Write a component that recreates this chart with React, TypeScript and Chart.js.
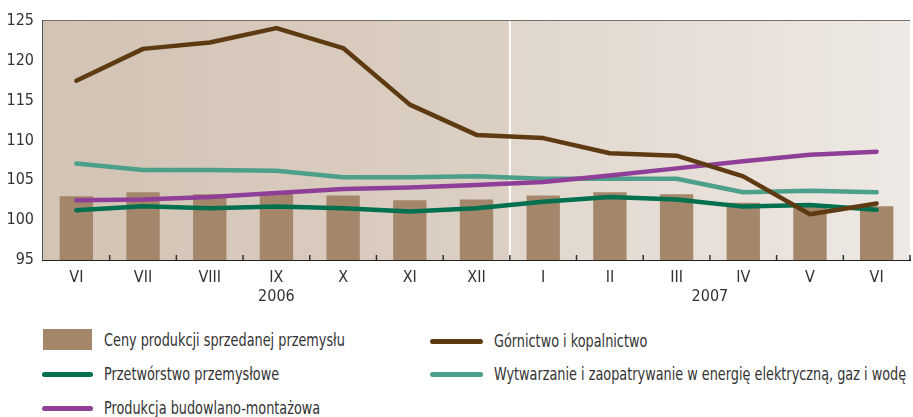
import React, { useEffect, useRef } from "react";
import { Chart, registerables } from "chart.js";

Chart.register(...registerables);

const categories = ["VI", "VII", "VIII", "IX", "X", "XI", "XII", "I", "II", "III", "IV", "V", "VI"];
const yearLabels = ["2006", "2007"];
const yearStart = [0, 7];
const yearEnd = [6, 12];
const yTicks = [95, 100, 105, 110, 115, 120, 125];

const cenyProdukcji = [103.0, 103.5, 103.25, 103.3, 103.1, 102.5, 102.6, 103.1, 103.5, 103.25, 102.2, 102.0, 101.75];
const gornictwo = [117.5, 121.5, 122.3, 124.1, 121.6, 114.5, 110.7, 110.3, 108.4, 108.1, 105.5, 100.75, 102.1];
const przetworstwo = [101.25, 101.75, 101.5, 101.7, 101.5, 101.1, 101.5, 102.3, 102.9, 102.6, 101.7, 101.9, 101.3];
const wytwarzanie = [107.1, 106.3, 106.3, 106.2, 105.4, 105.4, 105.5, 105.2, 105.2, 105.2, 103.5, 103.7, 103.5];
const budowlano = [102.5, 102.6, 102.9, 103.4, 103.9, 104.1, 104.4, 104.8, 105.6, 106.5, 107.4, 108.2, 108.6];

const FONT = "'Liberation Sans Narrow', 'DejaVu Sans Condensed', 'Arial Narrow', sans-serif";
const TEXT = "#333333";

const C_BAR = "#a4866a";
const C_BROWN = "#5e3a12";
const C_GREEN = "#00704e";
const C_TEAL = "#4c9f88";
const C_PURPLE = "#8f3f98";

const bgPlugin = {
  id: "bgPlugin",
  beforeDatasetsDraw(chart: any) {
    const { ctx, chartArea } = chart;
    const x = chart.scales.x;
    const { left, right, top, bottom } = chartArea;
    const boundary = (x.getPixelForValue(6) + x.getPixelForValue(7)) / 2;
    ctx.save();
    const g1 = ctx.createLinearGradient(left, 0, boundary, 0);
    g1.addColorStop(0, "rgb(210,195,180)");
    g1.addColorStop(1, "rgb(220,208,196)");
    ctx.fillStyle = g1;
    ctx.fillRect(left, top, boundary - left, bottom - top);
    const g2 = ctx.createLinearGradient(boundary, 0, right, 0);
    g2.addColorStop(0, "rgb(224,214,204)");
    g2.addColorStop(1, "rgb(238,233,228)");
    ctx.fillStyle = g2;
    ctx.fillRect(boundary, top, right - boundary, bottom - top);
    ctx.restore();
  },
};

const overlayPlugin = {
  id: "overlayPlugin",
  beforeDatasetsDraw(chart: any) {
    const { ctx, chartArea } = chart;
    const x = chart.scales.x;
    const boundary = (x.getPixelForValue(6) + x.getPixelForValue(7)) / 2;
    ctx.save();
    ctx.strokeStyle = "#ffffff";
    ctx.lineWidth = 2;
    ctx.beginPath();
    ctx.moveTo(boundary, chartArea.top);
    ctx.lineTo(boundary, chartArea.bottom);
    ctx.stroke();
    ctx.restore();
  },
  afterDraw(chart: any) {
    const { ctx, chartArea } = chart;
    const x = chart.scales.x;
    const n = categories.length;
    const step = x.getPixelForValue(1) - x.getPixelForValue(0);
    ctx.save();
    ctx.strokeStyle = "#333333";
    ctx.lineWidth = 1.5;
    for (let i = 0; i < n; i++) {
      const px = x.getPixelForValue(i) + step / 2;
      ctx.beginPath();
      ctx.moveTo(px, chartArea.bottom);
      ctx.lineTo(px, chartArea.bottom - 5);
      ctx.stroke();
    }
    ctx.fillStyle = TEXT;
    ctx.font = `16px ${FONT}`;
    ctx.textAlign = "center";
    ctx.textBaseline = "middle";
    for (let k = 0; k < yearLabels.length; k++) {
      const cx = (x.getPixelForValue(yearStart[k]) + x.getPixelForValue(yearEnd[k])) / 2;
      ctx.fillText(yearLabels[k], cx, chartArea.bottom + 37);
    }
    ctx.restore();
  },
};

function App() {
  const ref = useRef<HTMLCanvasElement | null>(null);

  useEffect(() => {
    document.body.style.margin = "0";
    if (!ref.current) return;
    const lineDs = (label: string, data: number[], color: string, order: number) => ({
      type: "line",
      label,
      data,
      borderColor: color,
      backgroundColor: color,
      borderWidth: 4.5,
      pointRadius: 0,
      tension: 0,
      borderCapStyle: "round",
      borderJoinStyle: "round",
      order,
    });
    const chart = new Chart(ref.current, {
      type: "bar",
      data: {
        labels: categories,
        datasets: [
          {
            type: "bar",
            label: "Ceny produkcji sprzedanej przemysłu",
            data: cenyProdukcji,
            backgroundColor: C_BAR,
            barPercentage: 0.5,
            categoryPercentage: 1,
            order: 10,
          },
          lineDs("Wytwarzanie i zaopatrywanie w energię elektryczną, gaz i wodę", wytwarzanie, C_TEAL, 4),
          lineDs("Przetwórstwo przemysłowe", przetworstwo, C_GREEN, 3),
          lineDs("Produkcja budowlano-montażowa", budowlano, C_PURPLE, 2),
          lineDs("Górnictwo i kopalnictwo", gornictwo, C_BROWN, 1),
        ],
      },
      options: {
        animation: false,
        responsive: false,
        maintainAspectRatio: false,
        layout: { padding: { top: 21, right: 3, left: 0, bottom: 0 } },
        plugins: {
          legend: { display: false },
          tooltip: { enabled: false },
        },
        scales: {
          x: {
            offset: true,
            grid: { display: false, drawTicks: false },
            border: { display: true, color: "#222222", width: 2 },
            ticks: {
              color: TEXT,
              font: { family: FONT, size: 16 },
              padding: 8,
              maxRotation: 0,
              autoSkip: false,
            },
            afterFit(scale: any) {
              scale.height = 50;
            },
          },
          y: {
            min: 95,
            max: 125,
            afterBuildTicks(scale: any) {
              scale.ticks = yTicks.map((v) => ({ value: v }));
            },
            grid: {
              drawTicks: false,
              color: (c: any) => (c.tick && c.tick.value === 100 ? "#1e1e1e" : "#77706a"),
              lineWidth: (c: any) => (c.tick && c.tick.value === 95 ? 0 : 1.5),
            },
            border: { display: true, color: "#555555", width: 2 },
            ticks: {
              color: TEXT,
              font: { family: FONT, size: 16 },
              padding: 9,
            },
            afterFit(scale: any) {
              scale.width = 43;
            },
          },
        },
      },
      plugins: [bgPlugin, overlayPlugin],
    } as any);
    return () => chart.destroy();
  }, []);

  const textStyle = (left: number, cy: number): React.CSSProperties => ({
    position: "absolute",
    left,
    top: cy,
    transform: "translateY(-50%) scaleX(0.84)",
    transformOrigin: "left center",
    fontFamily: FONT,
    fontSize: 17,
    color: TEXT,
    whiteSpace: "nowrap",
    lineHeight: "20px",
  });
  const lineSwatch = (left: number, cy: number, width: number, color: string): React.CSSProperties => ({
    position: "absolute",
    left,
    top: cy - 2.5,
    width,
    height: 5,
    borderRadius: 3,
    background: color,
  });

  return (
    <div style={{ position: "relative", width: 913, height: 417, background: "#ffffff", overflow: "hidden" }}>
      <canvas ref={ref} width={913} height={310} style={{ position: "absolute", left: 0, top: 0, width: 913, height: 310 }} />
      <div style={{ position: "absolute", left: 43, top: 329, width: 49, height: 21, background: C_BAR }} />
      <div style={textStyle(104, 340)}>Ceny produkcji sprzedanej przemysłu</div>
      <div style={lineSwatch(42, 374, 51, C_GREEN)} />
      <div style={textStyle(104, 374)}>Przetwórstwo przemysłowe</div>
      <div style={lineSwatch(42, 408, 51, C_PURPLE)} />
      <div style={textStyle(104, 408)}>Produkcja budowlano-montażowa</div>
      <div style={lineSwatch(430, 341, 53, C_BROWN)} />
      <div style={textStyle(494, 341)}>Górnictwo i kopalnictwo</div>
      <div style={lineSwatch(430, 374, 53, C_TEAL)} />
      <div style={textStyle(494, 374)}>Wytwarzanie i zaopatrywanie w energię elektryczną, gaz i wodę</div>
    </div>
  );
}

export default App;
